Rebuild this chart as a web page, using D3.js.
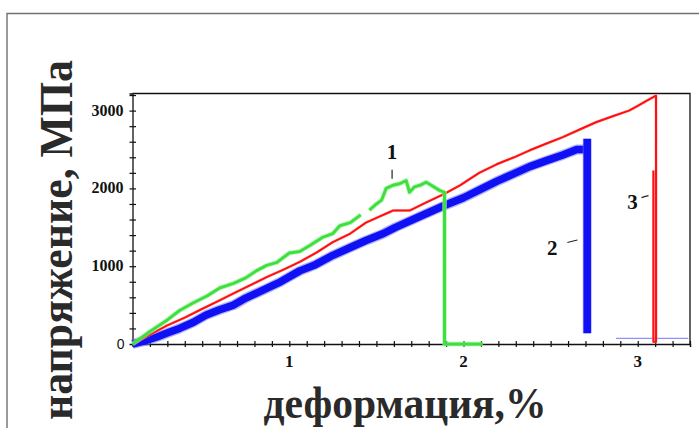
<!DOCTYPE html>
<html>
<head>
<meta charset="utf-8">
<script src="https://cdn.jsdelivr.net/npm/d3@7"></script>
<style>
  body { margin: 0; background: #fff; }
  svg { display: block; }
</style>
</head>
<body>
<div id="chart"></div>
<script>
// curve 1 (green); null = gap in the record
const greenStrain = [0.10, 0.20, 0.30, 0.37, 0.45, 0.53, 0.60, 0.68, 0.75, 0.81, 0.87, 0.93, 1.00, 1.06, 1.12, 1.19, 1.25, 1.29, 1.35, 1.41,
  null, 1.46, 1.50, 1.53, 1.556, 1.594, 1.633, 1.671, 1.69, 1.719, 1.75, 1.786, 1.815, 1.862, 1.891, 1.891, 2.11];
const greenStress = [0, 160, 310, 430, 530, 620, 720, 780, 850, 940, 1010, 1050, 1170, 1190, 1270, 1370, 1420, 1520, 1560, 1660,
  null, 1720, 1800, 1850, 2000, 2040, 2060, 2100, 1950, 2020, 2040, 2080, 2040, 1975, 1950, 0, 0];

// curve 2 (blue)
const blueStrain = [0.10, 0.17, 0.24, 0.31, 0.37, 0.45, 0.52, 0.60, 0.68, 0.75, 0.87, 0.95, 1.06, 1.15, 1.25, 1.35, 1.44, 1.54, 1.61,
  1.71, 1.81, 1.90, 2.00, 2.10, 2.19, 2.29, 2.38, 2.48, 2.57, 2.65, 2.69];
const blueStress = [0, 40, 90, 150, 200, 280, 370, 440, 500, 590, 714, 800, 940, 1020, 1140, 1240, 1330, 1420, 1500,
  1600, 1700, 1790, 1880, 1990, 2090, 2190, 2280, 2360, 2430, 2500, 2500];
const blueBreakStrain = [2.71, 2.71];
const blueBreakStress = [137, 2637];
const blueTailStrain = [2.875, 3.29];
const blueTailStress = [73, 73];

// curve 3 (red)
const redStrain = [0.10, 0.20, 0.30, 0.40, 0.49, 0.60, 0.68, 0.78, 0.87, 0.97, 1.06, 1.16, 1.25, 1.35, 1.44, 1.52, 1.57, 1.594, 1.69,
  1.79, 1.89, 1.98, 2.09, 2.19, 2.29, 2.38, 2.48, 2.57, 2.67, 2.76, 2.86, 2.95, 3.00, 3.05, 3.105, 3.105, 3.09, 3.09];
const redStress = [0, 120, 240, 340, 440, 560, 650, 760, 860, 960, 1055, 1180, 1310, 1420, 1560, 1640, 1690, 1715, 1715,
  1825, 1930, 2040, 2200, 2310, 2400, 2490, 2580, 2660, 2760, 2850, 2930, 3000, 3060, 3125, 3192, 30, 30, 2230];

const xTickLabels = [1, 2, 3];
const yTickLabels = [0, 1000, 2000, 3000];
const curveLabels = ["1", "2", "3"];
const curveLabelStrain = [1.59, 2.51, 2.97];
const curveLabelStress = [2380, 1150, 1740];

const width = 699, height = 428;
const margin = {left: 132.5, right: 9, top: 93.5, bottom: 84};

const svg = d3.select("#chart").append("svg")
  .attr("width", width)
  .attr("height", height);

// outer frame of the figure
svg.append("path")
  .attr("d", `M7,${height + 5}V13.5H${width + 5}`)
  .attr("fill", "none")
  .attr("stroke", "#707070")
  .attr("stroke-width", 1.4);

let x = d3.scaleLinear()
  .domain([0.1, 3.3])
  .range([margin.left, width - margin.right]);
let y = d3.scaleLinear()
  .domain([0, 3220])
  .range([height - margin.bottom, margin.top]);

const serif = "Liberation Serif, Times New Roman, serif";

// plot box (top and right sides)
svg.append("path")
  .attr("d", `M${x(0.1)},${y(3220)}H${x(3.3)}V${y(0)}`)
  .attr("fill", "none")
  .attr("stroke", "#111")
  .attr("stroke-width", 1.3);

// x axis, minor ticks every 0.1 crossing the line
let xAxis = svg.append("g")
  .attr("transform", `translate(0,${y(0)})`)
  .call(d3.axisBottom(x)
    .tickValues(d3.range(2, 34).map(i => i / 10))
    .tickSize(3)
    .tickFormat(""));
xAxis.select(".domain").attr("stroke", "#111").attr("stroke-width", 1.3);
xAxis.selectAll(".tick line").attr("y1", -3).attr("stroke", "#111").attr("stroke-width", 1.2);

svg.selectAll("text.xlab")
  .data(xTickLabels)
  .enter()
  .append("text")
  .classed("xlab", true)
  .attr("x", d => x(d))
  .attr("y", y(0) + 23)
  .attr("text-anchor", "middle")
  .attr("font-family", serif)
  .attr("font-weight", "bold")
  .attr("font-size", 17)
  .attr("fill", "#111")
  .text(d => d);

// y axis, ticks every 200
let yAxis = svg.append("g")
  .attr("transform", `translate(${x(0.1)},0)`)
  .call(d3.axisLeft(y)
    .tickValues(d3.range(1, 17).map(i => i * 200))
    .tickSize(3)
    .tickFormat(""));
yAxis.select(".domain").attr("stroke", "#111").attr("stroke-width", 1.3);
yAxis.selectAll(".tick line").attr("x1", 3.5).attr("stroke", "#111").attr("stroke-width", 1.2);

svg.selectAll("text.ylab")
  .data(yTickLabels)
  .enter()
  .append("text")
  .classed("ylab", true)
  .attr("x", d => d === 0 ? x(0.1) - 8 : x(0.1) - 9)
  .attr("y", d => y(d) + 5)
  .attr("text-anchor", "end")
  .attr("font-family", d => d === 0 ? "Liberation Sans, Arial, sans-serif" : serif)
  .attr("font-weight", d => d === 0 ? "normal" : "bold")
  .attr("font-size", d => d === 0 ? 14 : 16)
  .attr("fill", "#111")
  .text(d => d);

// curves; a wide pale stroke under each gives the soft edge of the scan
function series(xs, ys) {
  return xs.map((v, i) => ({x: v, y: ys[i]}));
}
let line = d3.line()
  .defined(d => d.x !== null && d.y !== null)
  .x(d => x(d.x))
  .y(d => y(d.y));

let curves = [
  {data: series(blueTailStrain, blueTailStress), color: "#8f93ff", w: 1.2, halo: 0},
  {data: series(blueStrain, blueStress), color: "#1010f5", w: 7.5, halo: 10, haloColor: "#7a7aff"},
  {data: series(blueBreakStrain, blueBreakStress), color: "#1010f5", w: 7.5, halo: 9, haloColor: "#7a7aff"},
  {data: series(redStrain, redStress), color: "#ff1010", w: 2, halo: 3, haloColor: "#ff9a9a"},
  {data: series(greenStrain, greenStress), color: "#3ee03e", w: 3, halo: 5, haloColor: "#a8f0a8"}
];

let g = svg.append("g");
curves.forEach(c => {
  if (c.halo) {
    g.append("path")
      .attr("d", line(c.data))
      .attr("fill", "none")
      .attr("stroke", c.haloColor)
      .attr("stroke-opacity", 0.6)
      .attr("stroke-width", c.halo)
      .attr("stroke-linejoin", "round");
  }
  g.append("path")
    .attr("class", "curve")
    .attr("d", line(c.data))
    .attr("fill", "none")
    .attr("stroke", c.color)
    .attr("stroke-width", c.w)
    .attr("stroke-linejoin", "round");
});

// curve numbers with small leader marks
svg.selectAll("text.curve-num")
  .data(curveLabels)
  .enter()
  .append("text")
  .classed("curve-num", true)
  .attr("x", (d, i) => x(curveLabelStrain[i]))
  .attr("y", (d, i) => y(curveLabelStress[i]))
  .attr("text-anchor", "middle")
  .attr("font-family", serif)
  .attr("font-weight", "bold")
  .attr("font-size", 21)
  .attr("fill", "#111")
  .text(d => d);

let lx = curveLabelStrain, ly = curveLabelStress;
svg.append("line")
  .attr("x1", x(lx[0])).attr("x2", x(lx[0]))
  .attr("y1", y(ly[0]) + 11).attr("y2", y(ly[0]) + 20)
  .attr("stroke", "#222").attr("stroke-width", 1.2);
svg.append("path")
  .attr("d", `M${x(lx[1]) + 15},${y(ly[1]) - 12}l4,-1l6,-1.5`)
  .attr("fill", "none").attr("stroke", "#222").attr("stroke-width", 1.2);
svg.append("path")
  .attr("d", `M${x(lx[2]) + 9},${y(ly[2]) - 11}l3,-1l4,-1`)
  .attr("fill", "none").attr("stroke", "#222").attr("stroke-width", 1.2);

// axis titles
svg.append("text")
  .attr("x", 405)
  .attr("y", 418)
  .attr("text-anchor", "middle")
  .attr("textLength", 283)
  .attr("lengthAdjust", "spacingAndGlyphs")
  .attr("font-family", serif)
  .attr("font-weight", "bold")
  .attr("font-size", 44)
  .attr("fill", "#2a2a2a")
  .text("деформация,%");

svg.append("text")
  .attr("transform", "translate(72,240) rotate(-90)")
  .attr("text-anchor", "middle")
  .attr("textLength", 360)
  .attr("lengthAdjust", "spacingAndGlyphs")
  .attr("font-family", serif)
  .attr("font-weight", "bold")
  .attr("font-size", 46)
  .attr("fill", "#2a2a2a")
  .text("напряжение, МПа");
</script>
</body>
</html>
